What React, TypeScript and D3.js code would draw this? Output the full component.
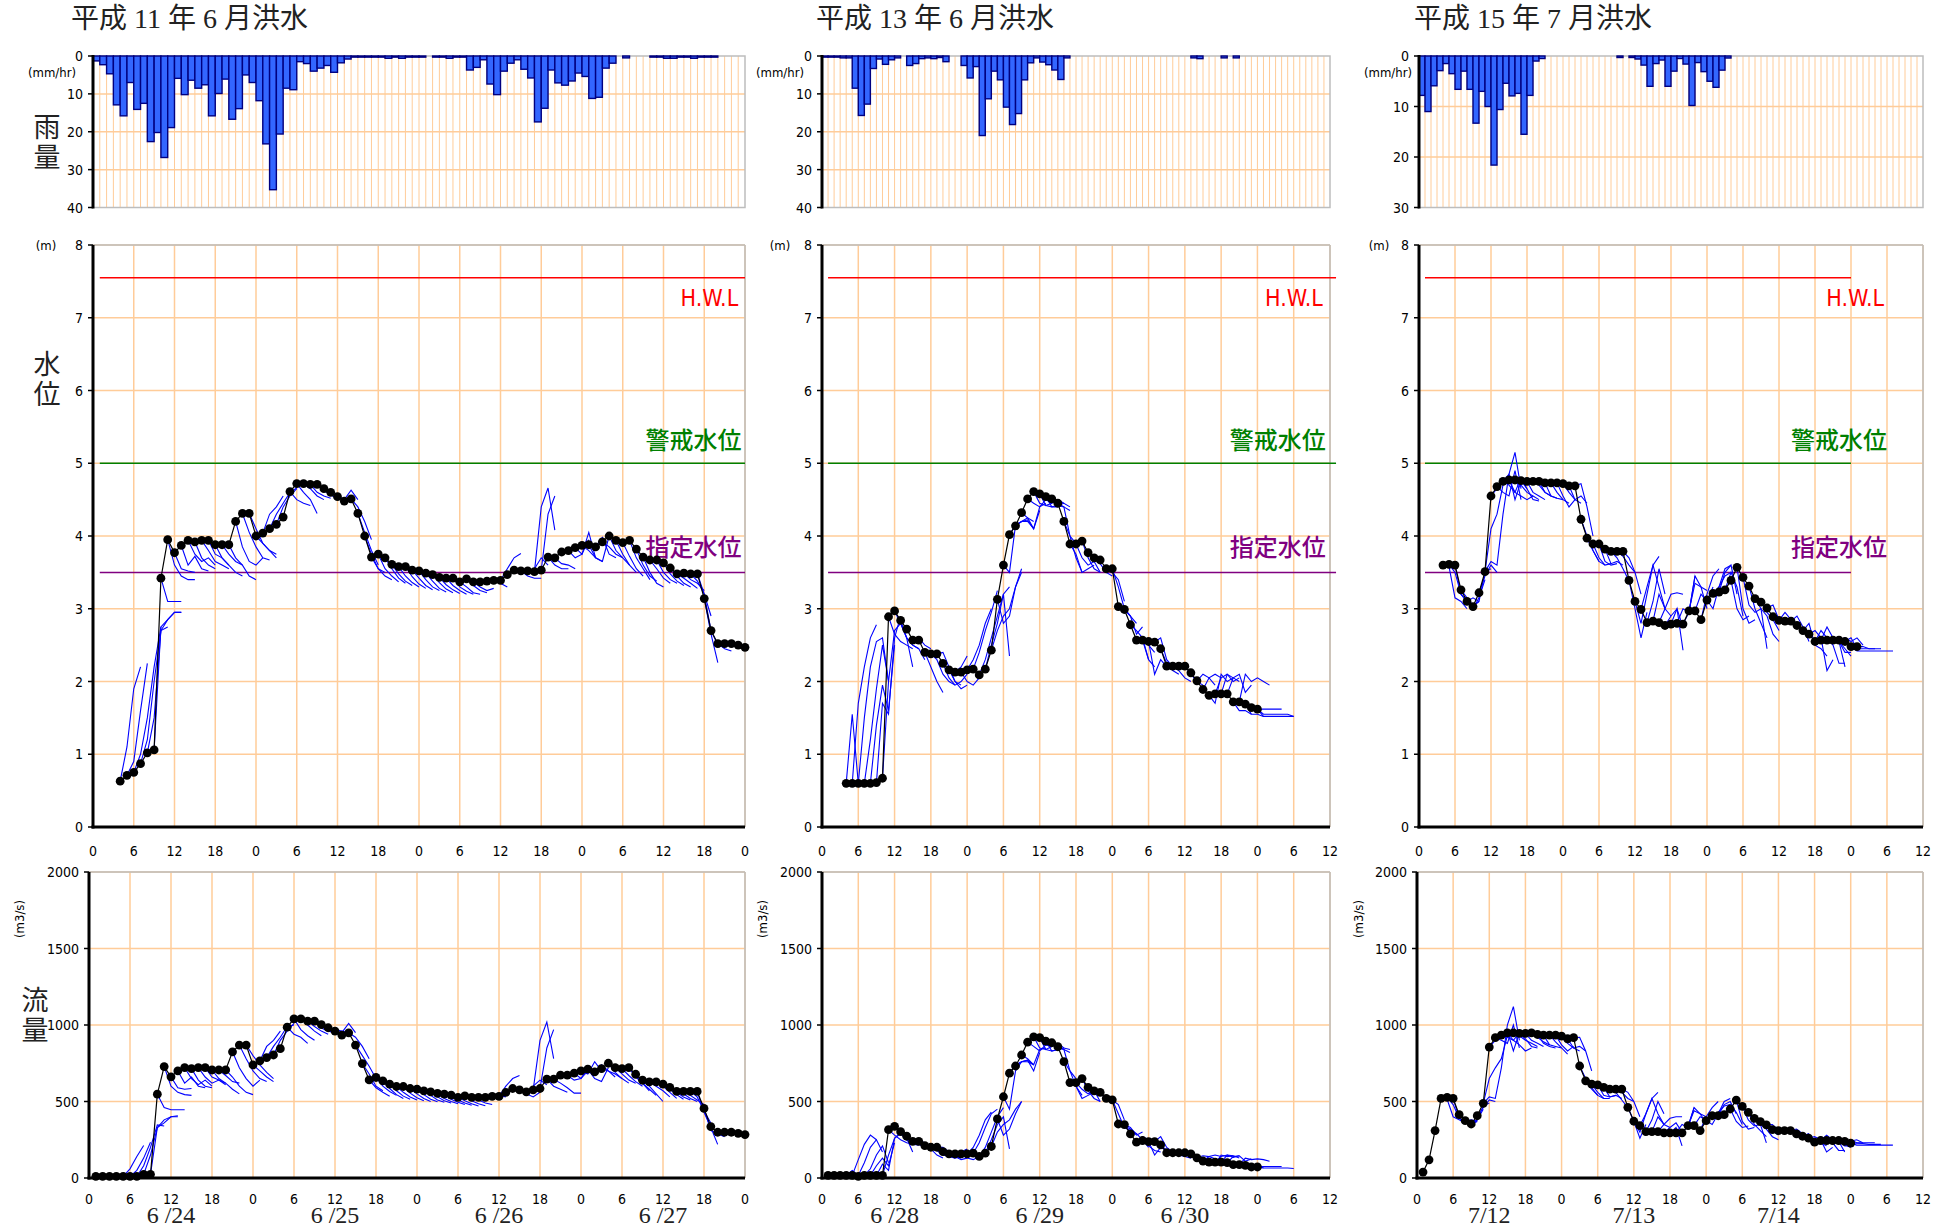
import React from "react";
import * as d3 from "d3";

// ---- data ----

const titles = ["平成 11 年 6 月洪水", "平成 13 年 6 月洪水", "平成 15 年 7 月洪水"];
const dates1 = ["6 /24", "6 /25", "6 /26", "6 /27"];
const dates2 = ["6 /28", "6 /29", "6 /30"];
const dates3 = ["7/12", "7/13", "7/14"];

const rainTicks40 = [0, 10, 20, 30, 40];
const rainTicks30 = [0, 10, 20, 30];
const levelTicks = [0, 1, 2, 3, 4, 5, 6, 7, 8];
const flowTicks = [0, 500, 1000, 1500, 2000];

const refValues = [7.55, 5.0, 3.5];
const refNames = ["H.W.L", "警戒水位", "指定水位"];

// hourly rainfall (mm/hr), from hour 0
const rain1 = [1.3, 2.3, 4.7, 12.9, 15.8, 7.0, 14.1, 12.5, 22.6, 20.2,
  26.8, 18.9, 5.9, 10.2, 6.4, 8.5, 7.6, 15.8, 9.9, 6.1,
  16.7, 13.9, 5.0, 7.0, 11.8, 23.2, 35.3, 20.6, 8.5, 8.9,
  1.5, 2.0, 4.0, 3.2, 2.5, 4.3, 1.8, 0.8, 0.3, 0.3,
  0.3, 0.3, 0.3, 0.6, 0.3, 0.6, 0.3, 0.3, 0.3, 0,
  0.3, 0.3, 0.6, 0.3, 0.3, 3.7, 3.0, 1.0, 7.4, 10.2,
  4.0, 1.9, 1.0, 3.5, 5.8, 17.4, 13.8, 3.7, 7.1, 7.7,
  6.6, 4.5, 5.4, 11.2, 10.9, 3.2, 1.9, 0, 0.5, 0,
  0, 0, 0.3, 0.3, 0.6, 0.6, 0.3, 0.3, 0.6, 0.3,
  0.3, 0.3, 0, 0, 0, 0];
const rain2 = [0.3, 0.3, 0.3, 0.5, 0.5, 8.5, 15.7, 12.7, 3.3, 0.8,
  2.2, 1.0, 0.5, 0, 2.5, 2.0, 0.7, 0.5, 0.7, 0.4,
  1.5, 0, 0, 2.5, 5.8, 2.8, 21.0, 11.3, 4.0, 6.3,
  13.5, 18.1, 15.2, 6.3, 1.8, 0.5, 1.6, 2.3, 3.7, 6.2,
  0.5, 0, 0, 0, 0, 0, 0, 0, 0, 0,
  0, 0, 0, 0, 0, 0, 0, 0, 0, 0,
  0, 0.5, 0.7, 0, 0, 0, 0.5, 0, 0.5, 0,
  0, 0, 0, 0, 0, 0, 0, 0, 0, 0,
  0, 0, 0, 0];
const rain3 = [7.8, 11.0, 5.9, 2.9, 1.5, 3.5, 6.6, 3.0, 6.6, 13.3,
  7.0, 10.0, 21.6, 10.6, 5.4, 7.9, 7.4, 15.5, 7.8, 1.0,
  0.5, 0, 0, 0, 0, 0, 0, 0, 0, 0,
  0, 0, 0, 0.3, 0, 0.3, 0.6, 1.8, 6.0, 1.5,
  0.8, 6.0, 3.0, 0.5, 1.6, 9.8, 1.3, 3.1, 5.0, 6.2,
  2.8, 0.4, 0, 0, 0, 0, 0, 0, 0, 0,
  0, 0, 0, 0, 0, 0, 0, 0, 0, 0,
  0, 0, 0, 0, 0, 0, 0, 0, 0, 0,
  0, 0, 0, 0];

// observed water level (m), hourly from levelStartN
const levelStart1 = 4;
const level1 = [0.63, 0.71, 0.75, 0.87, 1.02, 1.06, 3.42, 3.95, 3.77, 3.87,
  3.94, 3.92, 3.94, 3.94, 3.88, 3.88, 3.88, 4.20, 4.31, 4.31,
  4.00, 4.04, 4.10, 4.16, 4.26, 4.61, 4.72, 4.72, 4.71, 4.71,
  4.65, 4.60, 4.54, 4.48, 4.51, 4.31, 4.00, 3.71, 3.75, 3.70,
  3.61, 3.58, 3.58, 3.53, 3.52, 3.49, 3.47, 3.43, 3.42, 3.42,
  3.37, 3.41, 3.37, 3.37, 3.38, 3.39, 3.39, 3.47, 3.53, 3.52,
  3.52, 3.51, 3.53, 3.71, 3.70, 3.78, 3.80, 3.84, 3.87, 3.88,
  3.85, 3.92, 4.00, 3.94, 3.91, 3.94, 3.82, 3.71, 3.67, 3.67,
  3.63, 3.56, 3.48, 3.49, 3.48, 3.48, 3.14, 2.70, 2.52, 2.52,
  2.52, 2.50, 2.47];
const levelStart2 = 4;
const level2 = [0.60, 0.60, 0.60, 0.60, 0.60, 0.61, 0.67, 2.89, 2.97, 2.84,
  2.72, 2.57, 2.57, 2.40, 2.38, 2.38, 2.25, 2.16, 2.13, 2.13,
  2.16, 2.17, 2.09, 2.17, 2.43, 3.13, 3.60, 4.02, 4.14, 4.32,
  4.51, 4.61, 4.58, 4.54, 4.51, 4.45, 4.20, 3.89, 3.89, 3.93,
  3.77, 3.70, 3.67, 3.55, 3.55, 3.03, 2.99, 2.78, 2.57, 2.57,
  2.55, 2.54, 2.45, 2.21, 2.21, 2.21, 2.21, 2.12, 2.01, 1.89,
  1.81, 1.83, 1.83, 1.83, 1.72, 1.72, 1.69, 1.64, 1.62];
const levelStart3 = 4;
const level3 = [3.60, 3.61, 3.60, 3.26, 3.10, 3.03, 3.22, 3.51, 4.55, 4.68,
  4.75, 4.77, 4.77, 4.76, 4.75, 4.75, 4.75, 4.73, 4.73, 4.73,
  4.72, 4.69, 4.69, 4.23, 3.97, 3.89, 3.89, 3.82, 3.79, 3.79,
  3.79, 3.39, 3.10, 2.99, 2.81, 2.83, 2.81, 2.77, 2.79, 2.80,
  2.79, 2.97, 2.97, 2.85, 3.12, 3.21, 3.23, 3.26, 3.39, 3.57,
  3.43, 3.31, 3.14, 3.09, 3.01, 2.89, 2.84, 2.83, 2.83, 2.77,
  2.70, 2.65, 2.55, 2.57, 2.57, 2.57, 2.57, 2.55, 2.48, 2.48];

// observed discharge (m3/s), hourly from flowStartN
const flowStart1 = 1;
const flow1 = [10, 10, 10, 10, 10, 10, 10, 24, 24,
  548, 728, 661, 700, 721, 715, 721, 721, 706, 706,
  706, 825, 869, 869, 739, 765, 787, 804, 845, 986,
  1040, 1040, 1025, 1025, 1003, 982, 960, 934, 949, 869,
  748, 641, 657, 635, 613, 598, 598, 585, 581, 570,
  563, 553, 548, 542, 527, 537, 527, 527, 527, 533,
  533, 559, 585, 576, 563, 576, 585, 646, 646, 672,
  672, 685, 700, 711, 693, 715, 750, 721, 715, 721,
  678, 639, 628, 628, 613, 592, 566, 566, 566, 566,
  455, 336, 299, 299, 299, 292, 284];
const flowStart2 = 1;
const flow2 = [17, 17, 17, 17, 17, 11, 17, 17, 17, 17,
  316, 338, 303, 273, 240, 240, 212, 201, 201, 173,
  158, 158, 158, 158, 162, 141, 162, 206, 386, 531,
  685, 732, 804, 888, 923, 917, 895, 884, 858, 761,
  624, 624, 650, 592, 570, 559, 520, 511, 353, 349,
  288, 234, 245, 238, 238, 217, 165, 165, 165, 165,
  158, 132, 111, 104, 104, 104, 100, 87, 87, 82,
  72, 72];
const flowStart3 = 1;
const flow3 = [39, 119, 310, 520, 527, 520, 414, 375, 353, 407,
  488, 856, 917, 934, 949, 949, 945, 945, 949, 938,
  934, 934, 934, 927, 910, 917, 732, 635, 613, 609,
  592, 581, 581, 581, 462, 371, 342, 303, 303, 303,
  295, 295, 295, 295, 342, 342, 310, 375, 407, 407,
  414, 451, 509, 468, 429, 390, 368, 347, 316, 310,
  310, 310, 288, 273, 260, 234, 245, 245, 245, 245,
  240, 228];

// forecasts: [start hour, value at start, value +1h, ...]
const levelFc1 = [
  [4, 0.63, 1.1, 1.9, 2.2], [5, 0.71, 0.9, 1.6, 2.25], [6, 0.75, 1.0, 1.5, 2.2, 2.75],
  [7, 0.87, 1.2, 2.0, 2.7, 2.75], [8, 1.02, 1.5, 2.7, 2.85, 2.95, 2.95], [9, 1.06, 2.75, 2.85, 2.95, 2.95],
  [10, 3.42, 3.1, 3.1, 3.1], [11, 3.95, 3.6, 3.45, 3.4, 3.4], [12, 3.77, 3.55, 3.52, 3.5],
  [13, 3.87, 3.6, 3.72, 3.55, 3.52], [14, 3.94, 3.75, 3.65, 3.7, 3.6], [15, 3.92, 3.7, 3.6, 3.55],
  [16, 3.94, 3.8, 3.65, 3.6, 3.55], [17, 3.94, 3.75, 3.7, 3.6], [18, 3.88, 3.7, 3.6, 3.5, 3.45],
  [19, 3.88, 3.75, 3.65, 3.6], [20, 3.88, 3.7, 3.6, 3.45, 3.4], [21, 4.2, 3.85, 3.65, 3.6, 3.7],
  [22, 4.31, 4.05, 3.85, 3.7, 3.67], [23, 4.31, 4.1, 3.9, 3.8, 3.75], [24, 4.0, 3.9, 3.8, 3.7],
  [25, 4.04, 4.3, 4.4, 4.55], [26, 4.1, 4.3, 4.45, 4.6, 4.66], [27, 4.16, 4.4, 4.55, 4.65],
  [29, 4.61, 4.5, 4.45, 4.42], [30, 4.72, 4.6, 4.5, 4.31], [31, 4.72, 4.65, 4.55, 4.5],
  [32, 4.71, 4.6, 4.55, 4.52], [33, 4.71, 4.62, 4.57, 4.5], [35, 4.6, 4.55, 4.5, 4.48],
  [36, 4.54, 4.5, 4.63, 4.5], [38, 4.51, 4.4, 4.2, 3.95], [39, 4.31, 4.05, 3.8, 3.6],
  [40, 4.0, 3.75, 3.55, 3.5], [41, 3.71, 3.55, 3.45, 3.4], [42, 3.75, 3.55, 3.45, 3.37],
  [43, 3.7, 3.55, 3.42, 3.35], [44, 3.61, 3.48, 3.38, 3.32], [45, 3.58, 3.45, 3.36, 3.3],
  [46, 3.58, 3.44, 3.34, 3.28], [47, 3.53, 3.42, 3.32, 3.26], [48, 3.52, 3.4, 3.3, 3.25],
  [49, 3.49, 3.38, 3.28, 3.23], [50, 3.47, 3.36, 3.27, 3.22], [51, 3.43, 3.33, 3.26, 3.21],
  [52, 3.42, 3.32, 3.25, 3.2], [53, 3.42, 3.3, 3.24, 3.2], [54, 3.37, 3.3, 3.22, 3.2],
  [55, 3.41, 3.32, 3.25, 3.22], [56, 3.37, 3.3, 3.25, 3.28], [58, 3.38, 3.42, 3.35, 3.3],
  [60, 3.39, 3.55, 3.7, 3.76], [63, 3.52, 3.45, 3.42, 3.42], [64, 3.52, 3.55, 3.7, 3.6],
  [65, 3.51, 4.4, 4.66, 4.08], [66, 3.53, 4.3, 4.55], [67, 3.71, 3.6, 3.55, 3.55],
  [68, 3.7, 3.62, 3.6, 3.55], [70, 3.8, 3.7, 3.75, 3.95], [71, 3.84, 3.75, 4.05, 3.7],
  [72, 3.87, 3.8, 3.7, 3.65], [73, 3.88, 3.7, 3.65, 4.0], [74, 3.85, 3.98, 3.75, 3.7],
  [75, 3.92, 3.85, 3.75, 3.7], [76, 4.0, 3.8, 3.7, 3.6], [77, 3.94, 3.75, 3.6, 3.5],
  [78, 3.91, 3.72, 3.55, 3.45], [79, 3.94, 3.7, 3.55, 3.4], [80, 3.82, 3.6, 3.45, 3.38],
  [81, 3.71, 3.5, 3.35, 3.3], [82, 3.67, 3.55, 3.42, 3.35], [83, 3.67, 3.5, 3.4, 3.35],
  [84, 3.63, 3.48, 3.38, 3.32], [85, 3.56, 3.45, 3.35, 3.3], [86, 3.48, 3.42, 3.35, 3.28],
  [87, 3.49, 3.4, 3.35, 3.25], [88, 3.48, 3.38, 3.2, 2.9], [89, 3.48, 3.2, 2.7, 2.5],
  [90, 3.14, 2.65, 2.26], [92, 2.52, 2.45, 2.42]];

const flowFc1 = [
  [5, 10, 60, 140, 212], [6, 10, 50, 130, 234], [7, 10, 80, 200, 347, 340],
  [8, 24, 150, 330, 360, 400, 407], [9, 24, 330, 380, 400, 400], [10, 548, 460, 446, 446, 446],
  [11, 728, 600, 560, 545, 540], [12, 661, 590, 580, 585], [13, 700, 620, 660, 600, 590],
  [14, 721, 650, 610, 640, 600], [15, 715, 640, 600, 590], [16, 721, 660, 620, 640, 610],
  [17, 721, 660, 640, 620], [18, 706, 650, 620, 580, 550], [19, 706, 670, 630, 620],
  [20, 706, 660, 600, 560, 545], [21, 825, 720, 650, 600, 640], [22, 869, 780, 700, 650, 630],
  [23, 869, 800, 740, 690, 650], [24, 739, 700, 660, 630], [25, 765, 860, 900, 960],
  [26, 787, 860, 920, 990, 1000], [27, 804, 900, 960, 1010], [29, 986, 940, 920, 880],
  [30, 1040, 970, 930, 900], [31, 1040, 1000, 960, 930], [32, 1025, 990, 960, 940],
  [33, 1025, 980, 960, 950], [35, 982, 970, 960, 950], [36, 960, 950, 1010, 950],
  [38, 949, 920, 860, 780], [39, 869, 800, 730, 650], [40, 748, 680, 600, 570],
  [41, 641, 590, 560, 535], [42, 657, 600, 565, 540], [43, 635, 585, 545, 520],
  [44, 613, 570, 535, 515], [45, 598, 560, 530, 510], [46, 598, 555, 525, 505],
  [47, 585, 550, 520, 500], [48, 581, 545, 515, 498], [49, 570, 540, 510, 495],
  [50, 563, 530, 505, 490], [51, 553, 520, 500, 485], [52, 548, 515, 495, 480],
  [53, 542, 510, 490, 475], [54, 527, 505, 485, 470], [55, 537, 505, 485, 472],
  [56, 527, 510, 490, 480], [58, 527, 545, 540, 530], [60, 533, 600, 650, 670],
  [63, 576, 550, 530, 560], [64, 563, 600, 640, 610], [65, 576, 900, 1020, 780],
  [66, 585, 850, 970], [67, 646, 600, 580, 560], [68, 646, 620, 590, 555, 555],
  [70, 672, 640, 650, 700], [71, 685, 650, 720, 680], [72, 700, 680, 760, 700],
  [73, 711, 650, 630, 720], [74, 693, 740, 700, 660], [75, 715, 700, 680, 650],
  [76, 750, 690, 650, 620], [77, 721, 680, 640, 620], [78, 715, 670, 630, 600],
  [79, 721, 660, 620, 570], [80, 678, 620, 580, 540], [81, 639, 600, 550, 500],
  [82, 628, 600, 570, 530], [83, 628, 600, 560, 520], [84, 613, 580, 545, 515],
  [85, 592, 560, 530, 510], [86, 566, 550, 520, 500], [87, 566, 540, 510, 480],
  [88, 566, 530, 440, 360], [89, 566, 430, 330, 220], [90, 455, 310, 290, 270],
  [92, 299, 290, 280]];

const levelFc2 = [
  [4, 0.6, 1.55, 0.6], [5, 0.6, 1.7, 2.2, 2.6, 2.78], [6, 0.6, 1.5, 2.2, 2.55, 2.6, 2.0],
  [7, 0.6, 1.2, 1.9, 2.5, 2.0], [8, 0.6, 1.4, 1.95, 1.6, 2.5], [9, 0.61, 1.7, 1.55, 2.6, 2.9],
  [10, 0.67, 2.0, 2.7, 2.8, 2.6, 2.2], [11, 2.89, 2.65, 2.55, 2.5, 2.45], [12, 2.97, 2.8, 2.6, 2.5, 2.45],
  [13, 2.84, 2.6, 2.5, 2.45, 2.3], [15, 2.57, 2.6, 2.5, 2.45], [17, 2.4, 2.2, 2.0, 1.85],
  [18, 2.38, 2.3, 2.1, 2.0, 1.95], [19, 2.38, 2.4, 2.2, 2.0, 1.95], [20, 2.25, 2.05, 1.95, 2.0, 2.1],
  [21, 2.16, 2.0, 1.9, 1.95], [22, 2.13, 2.2, 2.35], [23, 2.13, 2.0, 1.95, 2.05],
  [24, 2.16, 2.3, 2.5, 2.8, 3.0], [25, 2.17, 2.4, 2.7, 2.95, 3.25], [26, 2.09, 2.3, 2.6, 2.9, 3.2, 3.3],
  [27, 2.17, 2.5, 2.8, 3.2, 2.35], [28, 2.43, 2.7, 2.9, 3.0, 3.3, 3.5], [29, 3.13, 2.8, 2.9, 3.3, 3.55],
  [30, 3.6, 3.5, 4.15, 4.2, 4.2, 4.1], [31, 4.02, 4.15, 4.2, 4.25, 4.2], [32, 4.14, 4.2, 4.22, 4.1, 4.35],
  [33, 4.32, 4.25, 4.1, 4.4, 4.45], [34, 4.51, 4.45, 4.4, 4.5, 4.45], [35, 4.61, 4.45, 4.42, 4.4, 4.4],
  [36, 4.58, 4.42, 4.45, 4.5, 4.45], [37, 4.54, 4.4, 4.42, 4.45, 4.4], [38, 4.51, 4.42, 4.4, 4.35],
  [39, 4.45, 4.4, 4.0, 3.9], [40, 4.2, 4.0, 3.7, 3.5], [41, 3.89, 3.75, 3.5, 3.55, 3.6],
  [42, 3.89, 3.7, 3.6, 3.65, 3.5], [43, 3.93, 3.7, 3.55, 3.5], [45, 3.7, 3.62, 3.5, 3.45],
  [47, 3.55, 3.5, 3.4, 3.1], [48, 3.55, 3.3, 3.0, 2.9], [49, 3.03, 3.0, 2.9, 2.8],
  [50, 2.99, 2.9, 2.65, 2.75], [51, 2.78, 2.7, 2.6, 2.3], [52, 2.57, 2.6, 2.5, 2.4],
  [53, 2.57, 2.3, 2.2], [54, 2.55, 2.1, 2.3, 2.2], [55, 2.54, 2.6, 2.3, 2.2],
  [56, 2.45, 2.25, 2.15, 2.1], [58, 2.21, 2.15, 2.05, 2.0], [60, 2.21, 2.1, 2.0, 1.95],
  [62, 2.01, 2.1, 2.05, 1.95], [63, 1.89, 2.05, 2.1, 2.05], [64, 1.81, 1.7, 2.1, 2.0, 2.05],
  [65, 1.83, 2.05, 2.1, 2.0, 2.05], [66, 1.83, 2.1, 2.05, 2.0], [67, 1.83, 2.05, 2.1, 1.85, 1.95],
  [68, 1.72, 1.6, 1.6, 1.55], [69, 1.72, 2.1, 2.0, 2.05, 2.0, 1.95], [70, 1.69, 1.55, 1.55, 1.52],
  [71, 1.64, 1.62, 1.62, 1.62, 1.62, 1.62], [72, 1.62, 1.55, 1.55, 1.55, 1.55, 1.55, 1.52],
  [72, 1.62, 1.52, 1.52, 1.52, 1.52, 1.52, 1.52]];

const flowFc2 = [
  [4, 17, 50, 17], [5, 17, 120, 220, 280, 250], [6, 17, 100, 200, 250, 170],
  [7, 17, 60, 150, 210, 100], [8, 17, 80, 130, 80, 230], [9, 17, 90, 50, 260, 300],
  [10, 17, 150, 260, 290, 260, 170], [11, 316, 280, 250, 230, 220], [12, 338, 290, 250, 220, 215],
  [13, 303, 250, 240, 220, 200], [15, 240, 245, 230, 210], [17, 212, 190, 150, 130],
  [18, 201, 180, 150, 140, 130], [19, 201, 200, 170, 140, 130], [20, 173, 150, 130, 140, 160],
  [21, 158, 140, 120, 130], [22, 158, 170, 190], [23, 158, 130, 120, 140],
  [24, 158, 200, 280, 380, 430], [25, 162, 230, 330, 420, 450], [26, 141, 200, 300, 400, 460],
  [27, 162, 250, 350, 400, 190], [28, 206, 300, 350, 380, 450, 500], [29, 386, 280, 320, 420, 500],
  [30, 531, 450, 700, 760, 760, 740], [31, 685, 740, 760, 770, 740], [32, 732, 760, 770, 700, 820],
  [33, 804, 780, 740, 840, 850], [34, 888, 860, 830, 870, 860], [35, 923, 850, 840, 830, 840],
  [36, 917, 840, 860, 880, 850], [37, 895, 830, 840, 850, 840], [38, 884, 850, 840, 820],
  [39, 858, 840, 700, 650], [40, 761, 700, 600, 540], [41, 624, 600, 520, 540, 560],
  [42, 624, 580, 550, 570, 500], [43, 650, 570, 520, 500], [45, 570, 550, 520, 500],
  [47, 520, 510, 480, 380], [48, 511, 420, 330, 310], [49, 353, 340, 320, 290],
  [50, 349, 330, 280, 300], [51, 288, 290, 250, 200], [52, 234, 270, 250, 230],
  [53, 245, 210, 180, 170], [54, 238, 150, 200, 180], [55, 238, 270, 200, 170],
  [56, 217, 180, 160, 155], [58, 165, 150, 140, 130], [60, 165, 140, 125, 120],
  [62, 132, 145, 140, 125], [63, 111, 140, 150, 140], [64, 104, 90, 150, 140, 145],
  [65, 104, 140, 150, 135, 145], [66, 104, 150, 145, 130], [67, 100, 140, 145, 110, 125],
  [68, 87, 75, 75, 70], [69, 87, 130, 120, 125, 120, 110], [70, 82, 70, 70, 68],
  [71, 72, 75, 75, 75, 75, 75], [72, 72, 65, 65, 65, 65, 65, 62]];

const levelFc3 = [
  [4, 3.6, 3.58, 3.15, 3.1, 3.0], [5, 3.61, 3.5, 3.2, 3.1, 3.05], [6, 3.6, 3.2, 3.1, 3.15, 3.1],
  [7, 3.26, 3.15, 3.05, 3.1], [8, 3.1, 3.0, 3.15, 3.4], [9, 3.03, 3.1, 3.5, 3.55],
  [10, 3.22, 3.45, 3.6, 3.5], [11, 3.51, 3.65, 3.6, 4.3, 4.85, 5.15, 4.65], [11, 3.51, 4.1, 4.3, 4.7, 4.8],
  [12, 4.55, 4.65, 4.75, 4.85, 4.5, 4.75], [13, 4.68, 4.6, 4.55, 4.9, 4.5], [14, 4.75, 4.7, 4.6, 4.8, 4.65],
  [15, 4.77, 4.6, 4.55, 4.5, 4.55], [16, 4.77, 4.7, 4.6, 4.55, 4.5], [17, 4.76, 4.65, 4.5, 4.48],
  [18, 4.75, 4.6, 4.55, 4.5], [19, 4.75, 4.7, 4.6, 4.55], [20, 4.75, 4.6, 4.55, 4.52],
  [21, 4.73, 4.55, 4.52, 4.5], [22, 4.73, 4.6, 4.5, 4.45], [23, 4.73, 4.55, 4.4, 4.5],
  [24, 4.72, 4.6, 4.5, 4.45], [25, 4.69, 4.5, 4.55, 4.45], [26, 4.69, 4.72, 4.4, 4.0],
  [27, 4.23, 4.0, 3.8, 3.65], [28, 3.97, 3.8, 3.65, 3.6], [29, 3.89, 3.7, 3.6, 3.62],
  [30, 3.89, 3.65, 3.6, 3.62], [31, 3.82, 3.62, 3.65, 3.6], [32, 3.79, 3.7, 3.55, 3.38],
  [33, 3.79, 3.72, 3.6, 3.5], [34, 3.79, 3.7, 3.5, 3.2], [35, 3.39, 3.0, 2.6, 2.95],
  [36, 3.1, 2.8, 3.2, 3.6, 3.72], [37, 2.99, 3.3, 3.6, 3.3, 3.0], [38, 2.81, 3.1, 3.55, 3.2],
  [39, 2.83, 3.2, 3.0, 2.9], [40, 2.81, 3.0, 3.2, 3.22, 3.2], [41, 2.77, 2.9, 3.0, 2.75],
  [42, 2.79, 3.0, 2.43], [43, 2.8, 3.0, 2.95, 3.45], [44, 2.79, 2.95, 3.45, 3.3, 3.0],
  [45, 2.97, 3.35, 3.3, 3.25], [46, 2.97, 3.2, 3.1, 3.3], [47, 2.85, 3.2, 3.45, 3.55],
  [48, 3.12, 3.0, 3.3, 3.55, 3.6], [49, 3.21, 3.3, 3.45, 3.5], [50, 3.23, 3.5, 3.6, 3.2],
  [51, 3.26, 3.5, 3.3, 2.9], [52, 3.39, 3.0, 2.85, 2.9], [53, 3.57, 3.0, 2.8, 2.85],
  [54, 3.43, 3.05, 2.95, 3.0, 2.45], [55, 3.31, 3.0, 2.8, 2.6], [56, 3.14, 3.0, 2.9, 2.65, 2.55],
  [57, 3.09, 2.95, 2.85, 2.7], [58, 3.01, 3.05, 2.85, 2.85], [60, 2.84, 2.95, 2.85, 2.8],
  [62, 2.83, 2.9, 2.75, 2.55], [64, 2.7, 2.8, 2.5, 2.45, 2.35], [65, 2.65, 2.7, 2.6, 2.15, 2.3],
  [66, 2.55, 2.7, 2.6, 2.5, 2.25, 2.25], [67, 2.57, 2.75, 2.6, 2.55, 2.2], [68, 2.57, 2.6, 2.55, 2.45, 2.35],
  [69, 2.57, 2.55, 2.4, 2.4], [70, 2.57, 2.6, 2.55, 2.6, 2.5], [71, 2.55, 2.6, 2.45, 2.45, 2.45, 2.45],
  [72, 2.48, 2.48, 2.48, 2.45, 2.45, 2.45], [72, 2.48, 2.42, 2.42, 2.42, 2.42, 2.42, 2.42, 2.42]];

const flowFc3 = [
  [4, 520, 515, 400, 380, 360], [5, 527, 480, 390, 370, 360], [6, 520, 390, 370, 380, 370],
  [7, 414, 380, 350, 370], [8, 375, 350, 380, 450], [9, 353, 380, 470, 490],
  [10, 407, 460, 510, 500], [11, 488, 530, 520, 720, 1000, 1120, 900], [11, 488, 650, 720, 780, 930],
  [12, 856, 900, 930, 960, 830, 950], [13, 917, 900, 880, 1000, 850], [14, 934, 920, 900, 950, 920],
  [15, 949, 900, 870, 830, 850], [16, 949, 930, 900, 880, 860], [17, 945, 910, 860, 850],
  [18, 945, 900, 880, 860], [19, 949, 920, 890, 870], [20, 938, 880, 860, 850],
  [21, 934, 870, 860, 850], [22, 934, 890, 850, 810], [23, 934, 870, 830, 860],
  [24, 927, 880, 850, 830], [25, 910, 850, 860, 830], [26, 917, 920, 830, 700],
  [27, 732, 650, 590, 540], [28, 635, 580, 540, 520], [29, 613, 560, 520, 520],
  [30, 609, 540, 530, 540], [31, 592, 530, 540, 520], [32, 581, 560, 510, 460],
  [33, 581, 560, 520, 500], [34, 581, 560, 500, 400], [35, 462, 370, 260, 350],
  [36, 371, 300, 420, 520, 560], [37, 342, 420, 520, 420, 350], [38, 303, 380, 500, 420],
  [39, 303, 400, 350, 330], [40, 303, 350, 390, 400, 400], [41, 295, 330, 360, 300],
  [42, 295, 330, 210], [43, 295, 350, 330, 460], [44, 295, 340, 460, 420, 360],
  [45, 342, 440, 420, 400], [46, 342, 400, 380, 420], [47, 310, 400, 460, 500],
  [48, 375, 350, 420, 500, 520], [49, 407, 430, 470, 480], [50, 407, 480, 500, 420],
  [51, 414, 480, 430, 350], [52, 451, 370, 330, 340], [53, 509, 370, 320, 330],
  [54, 468, 380, 340, 350, 230], [55, 429, 350, 310, 270], [56, 390, 350, 320, 270, 250],
  [57, 368, 330, 310, 280], [58, 347, 350, 310, 300], [60, 310, 330, 310, 300],
  [62, 310, 320, 290, 250], [64, 273, 290, 240, 230, 210], [65, 260, 270, 250, 170, 200],
  [66, 234, 270, 250, 230, 180, 180], [67, 245, 280, 250, 240, 170], [68, 245, 250, 240, 220, 200],
  [69, 245, 240, 210, 210], [70, 245, 250, 240, 250, 230], [71, 240, 250, 230, 230, 230, 230],
  [72, 228, 228, 225, 220, 220, 220], [72, 228, 215, 215, 215, 215, 215, 215, 215]];

// ---- drawing ----

const RAIN_Y = [56, 207.5];
const LEVEL_Y = [827, 245];
const FLOW_Y = [1178, 872];

const GRID = "#FFCC99";
const FRAME = "#BDBDBD";
const TICK_FONT = "'Liberation Sans Narrow','DejaVu Sans Condensed','Liberation Sans',sans-serif";
const JP_FONT = "'Noto Sans CJK JP',sans-serif";
const SERIF_FONT = "'Liberation Serif','Noto Sans CJK JP',serif";
const refColors = ["#FF0000", "#008000", "#800080"];

const toPts = (start, vals) => vals.map((v, i) => [start + i, v]);

function RainChart({ xs, hours, rain, max, ticks }) {
  const ys = d3.scaleLinear().domain([0, max]).range(RAIN_Y);
  const left = xs(0), right = xs(hours);
  return (
    <g>
      {d3.range(1, hours).map(h => (
        <line key={h} x1={xs(h)} x2={xs(h)} y1={ys(0)} y2={ys(max)} stroke={GRID} strokeWidth={1} />
      ))}
      {ticks.filter(t => t > 0 && t < max).map(t => (
        <line key={"g" + t} x1={left} x2={right} y1={ys(t)} y2={ys(t)} stroke={GRID} strokeWidth={1.5} />
      ))}
      <rect x={left} y={ys(0)} width={right - left} height={ys(max) - ys(0)} fill="none" stroke={FRAME} strokeWidth={1.5} />
      {rain.map((v, h) => v > 0 ? (
        <rect key={"b" + h} x={xs(h)} y={ys(0)} width={xs(h + 1) - xs(h)} height={ys(v) - ys(0)}
          fill="#3366FF" stroke="#000080" strokeWidth={1.4} />
      ) : null)}
      <line x1={left} x2={left} y1={ys(0) - 1} y2={ys(max) + 1} stroke="#000" strokeWidth={3} />
      {ticks.map(t => (
        <g key={"t" + t}>
          <line x1={left - 5} x2={left} y1={ys(t)} y2={ys(t)} stroke="#000" strokeWidth={1.5} />
          <text x={left - 10} y={ys(t)} dy="0.36em" textAnchor="end" fontSize={14} fontFamily={TICK_FONT}>{t}</text>
        </g>
      ))}
    </g>
  );
}

function SeriesChart({ xs, ys, hours, ticks, obsStart, obs, fc, tickY, children }) {
  const left = xs(0), right = xs(hours);
  const top = ys(ticks[ticks.length - 1]), bottom = ys(0);
  const line = d3.line().x(d => xs(d[0])).y(d => ys(d[1]));
  const hTicks = d3.range(0, hours + 1, 6);
  return (
    <g>
      {hTicks.filter(h => h > 0).map(h => (
        <line key={"v" + h} x1={xs(h)} x2={xs(h)} y1={top} y2={bottom} stroke={GRID} strokeWidth={1.5} />
      ))}
      {ticks.filter(t => t > 0).map(t => (
        <line key={"h" + t} x1={left} x2={right} y1={ys(t)} y2={ys(t)} stroke={GRID} strokeWidth={1.5} />
      ))}
      <line x1={left} x2={right} y1={top} y2={top} stroke={FRAME} strokeWidth={1.5} />
      <line x1={right} x2={right} y1={top} y2={bottom} stroke={FRAME} strokeWidth={1.5} />
      {children}
      {fc.map((f, i) => (
        <path key={"f" + i} d={line(toPts(f[0], f.slice(1)))} fill="none" stroke="#0000FF" strokeWidth={1.1} />
      ))}
      <path d={line(toPts(obsStart, obs))} fill="none" stroke="#000" strokeWidth={1.2} />
      {obs.map((v, i) => (
        <circle key={"o" + i} cx={xs(obsStart + i)} cy={ys(v)} r={4.4} fill="#000" />
      ))}
      <line x1={left} x2={left} y1={top} y2={bottom + 1.5} stroke="#000" strokeWidth={3} />
      <line x1={left - 1.5} x2={right} y1={bottom} y2={bottom} stroke="#000" strokeWidth={3} />
      {ticks.map(t => (
        <g key={"t" + t}>
          <line x1={left - 5} x2={left} y1={ys(t)} y2={ys(t)} stroke="#000" strokeWidth={1.5} />
          <text x={left - 10} y={ys(t)} dy="0.36em" textAnchor="end" fontSize={14} fontFamily={TICK_FONT}>{t}</text>
        </g>
      ))}
      {hTicks.map(h => (
        <text key={"x" + h} x={xs(h)} y={tickY} dy="0.36em" textAnchor="middle" fontSize={14} fontFamily={TICK_FONT}>{h % 24}</text>
      ))}
    </g>
  );
}

function Panel({ cfg }) {
  const xs = d3.scaleLinear().domain([0, cfg.hours]).range([cfg.left, cfg.right]);
  const xf = d3.scaleLinear().domain([0, cfg.hours]).range([cfg.flowLeft, cfg.right]);
  const yl = d3.scaleLinear().domain([0, 8]).range(LEVEL_Y);
  const yf = d3.scaleLinear().domain([0, 2000]).range(FLOW_Y);
  const labelAt = [7.27, 5.32, 3.84];
  return (
    <g>
      <text x={cfg.titleX} y={28} fontSize={28} fontFamily={SERIF_FONT} fill="#222">{cfg.title}</text>
      <RainChart xs={xs} hours={cfg.hours} rain={cfg.rain} max={cfg.rainMax} ticks={cfg.rainTicks} />
      <text x={cfg.mmX} y={72} dy="0.36em" textAnchor="middle" fontSize={13} fontFamily={TICK_FONT}>(mm/hr)</text>
      <text x={cfg.mX} y={245} dy="0.36em" textAnchor="middle" fontSize={13} fontFamily={TICK_FONT}>(m)</text>
      <SeriesChart xs={xs} ys={yl} hours={cfg.hours} ticks={levelTicks} obsStart={cfg.levelStart}
        obs={cfg.level} fc={cfg.levelFc} tickY={851}>
        {refValues.map((v, i) => (
          <g key={"r" + i}>
            <line x1={xs(1)} x2={xs(cfg.refEnd)} y1={yl(v)} y2={yl(v)} stroke={refColors[i]} strokeWidth={1.5} />
            <text x={xs(i === 0 ? cfg.labelEnd - 0.5 : cfg.labelEnd)} y={yl(labelAt[i])} dy="0.36em" textAnchor="end" fill={refColors[i]}
              fontSize={i === 0 ? 23 : 24} fontWeight={i === 0 ? 400 : 500}
              fontFamily={i === 0 ? TICK_FONT : JP_FONT}>{refNames[i]}</text>
          </g>
        ))}
      </SeriesChart>
      <text transform={`translate(${cfg.m3X},919) rotate(-90)`} dy="0.36em" textAnchor="middle" fontSize={13} fontFamily={TICK_FONT}>(m3/s)</text>
      <SeriesChart xs={xf} ys={yf} hours={cfg.hours} ticks={flowTicks} obsStart={cfg.flowStart}
        obs={cfg.flow} fc={cfg.flowFc} tickY={1199} />
      {cfg.dates.map((d, i) => (
        <text key={d} x={xf(12 + 24 * i)} y={1223} textAnchor="middle" fontSize={24} fontFamily={SERIF_FONT} fill="#222">{d}</text>
      ))}
    </g>
  );
}

const panels = [
  { title: titles[0], titleX: 71, left: 93, flowLeft: 89, right: 745, hours: 96,
    rain: rain1, rainMax: 40, rainTicks: rainTicks40, levelStart: levelStart1, level: level1, levelFc: levelFc1,
    flowStart: flowStart1, flow: flow1, flowFc: flowFc1, dates: dates1, refEnd: 96, labelEnd: 95.5,
    mmX: 52, mX: 46, m3X: 19 },
  { title: titles[1], titleX: 816, left: 822, flowLeft: 822, right: 1330, hours: 84,
    rain: rain2, rainMax: 40, rainTicks: rainTicks40, levelStart: levelStart2, level: level2, levelFc: levelFc2,
    flowStart: flowStart2, flow: flow2, flowFc: flowFc2, dates: dates2, refEnd: 85, labelEnd: 83.3,
    mmX: 780, mX: 780, m3X: 762 },
  { title: titles[2], titleX: 1414, left: 1419, flowLeft: 1417, right: 1923, hours: 84,
    rain: rain3, rainMax: 30, rainTicks: rainTicks30, levelStart: levelStart3, level: level3, levelFc: levelFc3,
    flowStart: flowStart3, flow: flow3, flowFc: flowFc3, dates: dates3, refEnd: 72, labelEnd: 78,
    mmX: 1388, mX: 1379, m3X: 1358 },
];

export default function App() {
  return (
    <svg width={1948} height={1230} style={{ position: "absolute", left: 0, top: 0, background: "#fff" }}>
      <rect width={1948} height={1230} fill="#fff" />
      {panels.map((p, i) => <Panel key={i} cfg={p} />)}
      <g fontFamily={JP_FONT} fontSize={27} textAnchor="middle" fill="#222">
        <text x={47} y={127} dy="0.36em">雨</text>
        <text x={47} y={157} dy="0.36em">量</text>
        <text x={47} y={364} dy="0.36em">水</text>
        <text x={47} y={394} dy="0.36em">位</text>
        <text x={35} y={1000} dy="0.36em">流</text>
        <text x={35} y={1030} dy="0.36em">量</text>
      </g>
    </svg>
  );
}
